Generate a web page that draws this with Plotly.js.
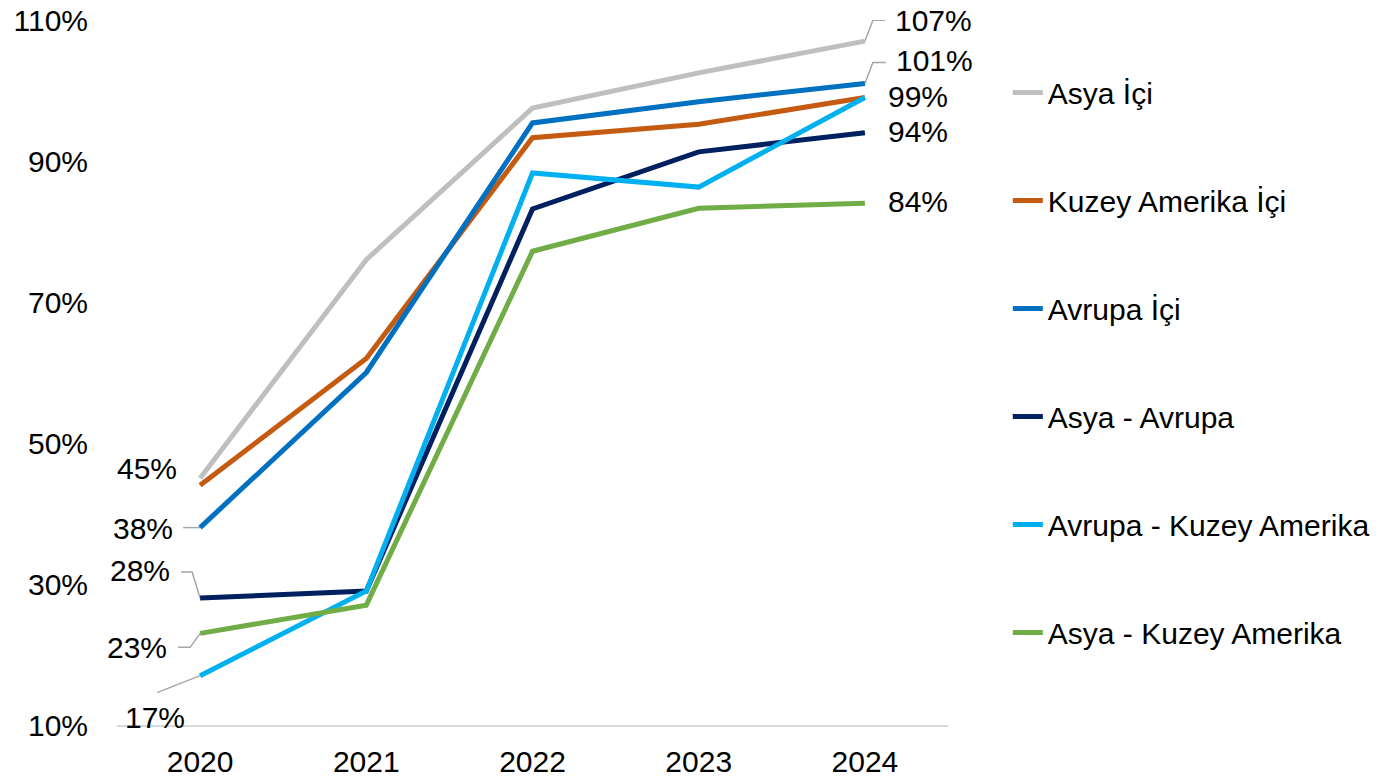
<!DOCTYPE html>
<html>
<head>
<meta charset="utf-8">
<script src="https://cdn.plot.ly/plotly-3.0.1.min.js"></script>
<style>html,body{margin:0;padding:0;background:#fff;}#chart{width:1394px;height:779px;}</style>
</head>
<body>
<div id="chart"></div>
<script>
const years = ['2020', '2021', '2022', '2023', '2024'];
const seriesNames = ['Asya İçi', 'Kuzey Amerika İçi', 'Avrupa İçi', 'Asya - Avrupa', 'Avrupa - Kuzey Amerika', 'Asya - Kuzey Amerika'];
const asyaIci = [45, 76, 97.5, 102.5, 107];
const kuzeyAmerikaIci = [44, 62, 93.3, 95.2, 99];
const avrupaIci = [38, 60, 95.4, 98.4, 101];
const asyaAvrupa = [28, 29, 83.2, 91.3, 94];
const avrupaKuzeyAmerika = [17, 29, 88.3, 86.3, 99];
const asyaKuzeyAmerika = [23, 27, 77.2, 83.3, 84];
const yTickVals = [10, 30, 50, 70, 90, 110];
const yTickText = ['10%', '30%', '50%', '70%', '90%', '110%'];

const allSeries = [asyaIci, kuzeyAmerikaIci, avrupaIci, asyaAvrupa, avrupaKuzeyAmerika, asyaKuzeyAmerika];
const colors = ['#BFBFBF', '#C55A11', '#0070C0', '#002060', '#00B0F0', '#70AD47'];
const FONT = 'Liberation Sans, Arial, sans-serif';

const traces = allSeries.map((vals, i) => ({
  type: 'scatter', mode: 'lines', x: years, y: vals, name: seriesNames[i],
  legendgroup: 'g' + i,
  line: {color: colors[i], width: 5},
  hoverinfo: 'skip'
}));

// label specs: [seriesIndex, pointIndex, xshift, yshift]
const labelSpecs = [
  [0, 0, -53, 10], [2, 0, -57, -1], [3, 0, -60, 28], [5, 0, -63, -14], [4, 0, -45, -42],
  [0, 4, 69, 21], [2, 4, 70, 23], [1, 4, 53, 1], [3, 4, 53, 1], [5, 4, 53, 2]
];
const annotations = labelSpecs.map(([s, p, dx, dy]) => ({
  x: p, y: allSeries[s][p], xref: 'x', yref: 'y',
  text: Math.round(allSeries[s][p]) + '%', showarrow: false,
  xshift: dx, yshift: dy, xanchor: 'center', yanchor: 'middle',
  font: {family: FONT, size: 30, color: '#000'}
}));

// leader lines: [seriesIndex, pointIndex, path in pixels relative to point]
const leaderSpecs = [
  [2, 0, 'M0,0 L-17,0'],
  [3, 0, 'M0,0 L-8,26 L-19,26'],
  [5, 0, 'M0,0 L-10,-14 L-22,-14'],
  [4, 0, 'M0,0 L-43,-17'],
  [0, 4, 'M0,0 L8,21 L20,21'],
  [2, 4, 'M0,0 L8,21 L21,21']
];
const shapes = leaderSpecs.map(([s, p, path]) => ({
  type: 'path', xref: 'x', yref: 'y', xsizemode: 'pixel', ysizemode: 'pixel',
  xanchor: p, yanchor: allSeries[s][p], path: path,
  line: {color: '#A6A6A6', width: 1.5}, layer: 'below'
}));

const layout = {
  width: 1394, height: 779,
  margin: {l: 117, r: 446, t: 20, b: 54},
  paper_bgcolor: '#fff', plot_bgcolor: '#fff',
  showlegend: true,
  legend: {
    x: 1.072, y: 0.934, xanchor: 'left', yanchor: 'top',
    traceorder: 'grouped', tracegroupgap: 66,
    font: {family: FONT, size: 30, color: '#000'},
    bgcolor: 'rgba(0,0,0,0)'
  },
  xaxis: {
    type: 'category', range: [-0.5, 4.5], showgrid: false, zeroline: false,
    showline: true, linecolor: '#D9D9D9', linewidth: 2,
    ticks: '', ticklabelstandoff: 9,
    tickfont: {family: FONT, size: 30, color: '#000'}
  },
  yaxis: {
    range: [10, 110], tickvals: yTickVals, ticktext: yTickText,
    showgrid: false, zeroline: false, showline: false, ticks: '',
    ticklabelstandoff: 28,
    tickfont: {family: FONT, size: 30, color: '#000'}
  },
  annotations: annotations,
  shapes: shapes
};

Plotly.newPlot('chart', traces, layout, {displayModeBar: false, staticPlot: true});
</script>
</body>
</html>
